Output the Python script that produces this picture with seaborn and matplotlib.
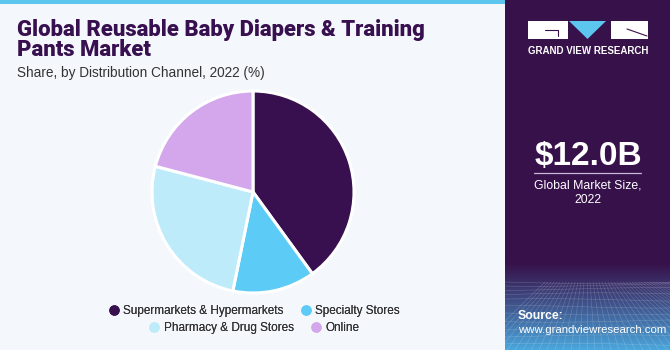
import numpy as np
import seaborn as sns
import matplotlib.pyplot as plt
from matplotlib.lines import Line2D
from matplotlib.patches import Rectangle, Polygon

# data
channels = ["Supermarkets & Hypermarkets", "Specialty Stores",
            "Pharmacy & Drug Stores", "Online"]
shares = [40.0, 13.2, 25.9, 20.9]
colors = ["#381050", "#5CCBF6", "#BDEBFA", "#D4A7EC"]

market_size = "$12.0B"
market_label = "Global Market Size,\n2022"

sns.set_theme(style="white")
plt.rcParams['font.family'] = ['Liberation Sans', 'DejaVu Sans']

W, H = 670, 350
bg = "#F4F8FC"
dark = "#37114A"

fig = plt.figure(figsize=(W / 100, H / 100), dpi=100)
fig.patch.set_facecolor(bg)


def fx(x):
    return x / W


def fy(y):
    return 1 - y / H


# top accent strip
fig.patches.append(Rectangle((0, fy(4)), fx(505), 4 / H, transform=fig.transFigure,
                             facecolor="#5CC6EE", edgecolor="none", zorder=0))

# title block
fig.text(fx(17), fy(36), "Global Reusable Baby Diapers & Training",
         fontsize=15.8, fontweight="heavy", color="#381050", family="Roboto")
fig.text(fx(17), fy(56), "Pants Market",
         fontsize=15.8, fontweight="heavy", color="#381050", family="Roboto")
fig.text(fx(17), fy(77), "Share, by Distribution Channel, 2022 (%)",
         fontsize=9.8, color="#333333")

# pie
cx, cy, r = 253, 192, 101
pad = 4
ax = fig.add_axes([fx(cx - r - pad), fy(cy + r + pad), (2 * (r + pad)) / W, (2 * (r + pad)) / H])
ax.pie(shares, colors=colors, startangle=90, counterclock=False, radius=1,
       wedgeprops=dict(edgecolor="white", linewidth=2.2))
lim = (r + pad) / r
ax.set_xlim(-lim, lim)
ax.set_ylim(-lim, lim)
ax.set_aspect("equal")
ax.axis("off")


def handle(c):
    return Line2D([], [], marker="o", linestyle="none", markersize=6.5,
                  markerfacecolor=c, markeredgecolor=c)


rows = [([0, 1], 311), ([2, 3], 328)]
for idx, y in rows:
    leg = fig.legend([handle(colors[i]) for i in idx], [channels[i] for i in idx],
                     loc="center", bbox_to_anchor=(fx(254), fy(y)), ncol=2,
                     frameon=False, fontsize=8.5, handletextpad=0.3,
                     columnspacing=1.4, borderpad=0, handlelength=1.0)
    for t in leg.get_texts():
        t.set_color("#333333")
    fig.add_artist(leg)

# right panel
pax = fig.add_axes([fx(505), 0, 1 - fx(505), 1])
pax.add_patch(Rectangle((0, 0), 165, 350, facecolor=dark, edgecolor="none"))

# bottom gradient, fading in from the panel colour
grad = np.linspace(0, 1, 100).reshape(-1, 1, 1)
top_c = np.array([0x37, 0x11, 0x4A]) / 255
bot_c = np.array([0x4A, 0xA6, 0xDC]) / 255
img = top_c + (bot_c - top_c) * grad ** 1.1
pax.imshow(img, extent=(0, 165, 350, 262), aspect="auto", zorder=1)
# faint grid in the gradient
for k in range(-14, 28):
    pax.plot([82 + k * 3.0, 82 + k * 8.0], [282, 350], color="white", lw=0.4, alpha=0.22, zorder=2)
for j in range(14):
    yy = 282 + (j ** 1.35) * 2.8
    pax.plot(np.linspace(0, 165, 20), yy + 1.5 * np.sin(np.linspace(0, 3, 20) + j),
             color="white", lw=0.4, alpha=0.22, zorder=2)

# logo
pax.add_patch(Rectangle((23, 21), 40, 18, facecolor="white", edgecolor="none", zorder=3))
pax.plot([40, 53, 53], [30, 30, 36], color=dark, lw=0.8, zorder=4)
pax.add_patch(Polygon([(64, 21), (101, 21), (82.5, 39)], closed=True,
                      facecolor="#5CC6EE", edgecolor="none", zorder=3))
pax.add_patch(Rectangle((106, 21), 37, 18, facecolor="white", edgecolor="none", zorder=3))
pax.plot([122, 142], [29, 36], color=dark, lw=0.8, zorder=4)
pax.text(83, 51, "GRAND VIEW RESEARCH", color="white", fontsize=7,
         fontweight="bold", ha="center", va="center", zorder=3)

pax.text(83, 156, market_size, color="white", fontsize=24, fontweight="bold",
         ha="center", va="center", zorder=3)
pax.plot([29, 136], [173, 173], color="#C9B8D8", lw=0.9, zorder=3)
pax.text(83, 193, market_label, color="white", fontsize=8.8, ha="center",
         va="center", linespacing=1.3, zorder=3)

pax.text(13, 316, "Source:", color="white", fontsize=8.8, fontweight="bold",
         va="center", zorder=3)
pax.text(13, 330, "www.grandviewresearch.com", color="white", fontsize=8.2,
         va="center", zorder=3)

pax.set_xlim(0, 165)
pax.set_ylim(350, 0)
pax.axis("off")

fig.savefig("out.png", dpi=100, facecolor=fig.get_facecolor())
